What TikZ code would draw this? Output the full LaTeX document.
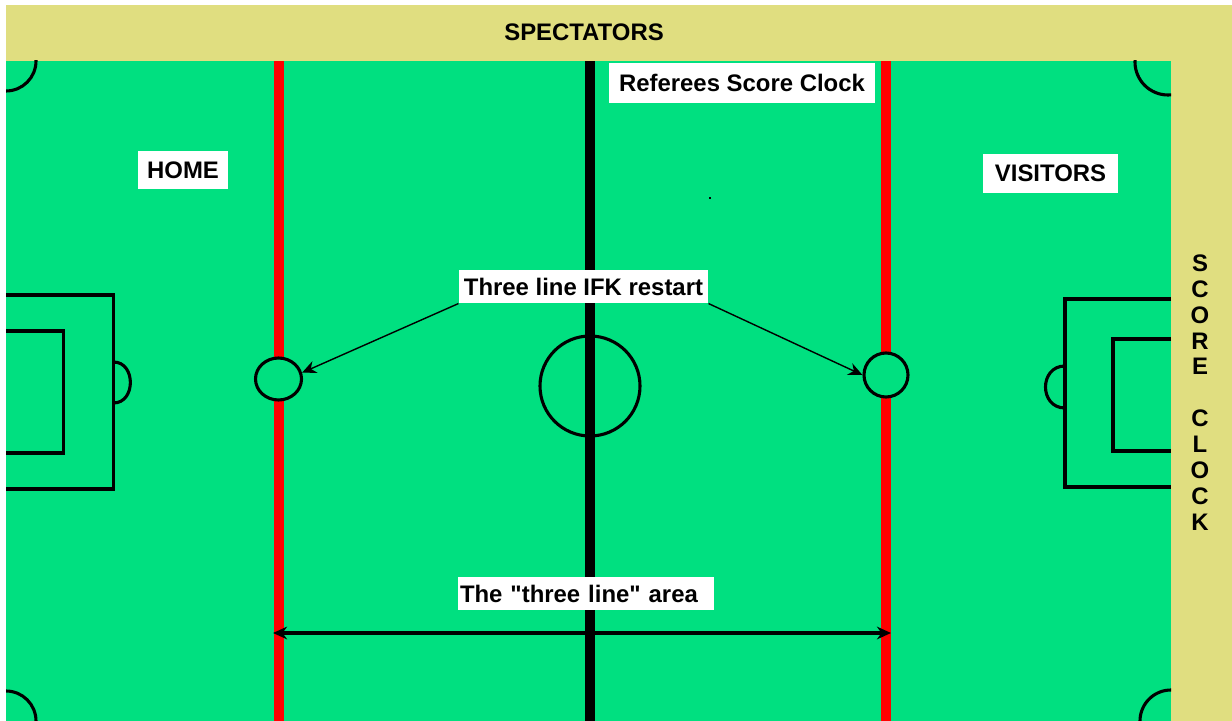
\documentclass[tikz,border=0pt]{standalone}
\usepackage{fontspec}
\setmainfont{Liberation Sans}[Ligatures=TeXOff]
\usepackage{xcolor}
\definecolor{pitchgreen}{HTML}{00E080}
\definecolor{standyellow}{HTML}{E0DE80}
\usepackage{tikz}
\usetikzlibrary{arrows.meta, shapes.geometric}
\tikzset{
	sign/.style={fill=white, inner xsep=0pt, inner ysep=0pt, font=\fontsize{17}{19}\selectfont\bfseries},
	spot/.style={draw, ellipse, line width=2.2pt, fill=pitchgreen, inner sep=0pt},
	mark line/.style={line width=2.2pt},
	pointer/.style={line width=1pt, -{Stealth[length=10pt, width=9pt]}}
}

\begin{document}
\begin{tikzpicture}[x=0.025cm, y=-0.025cm, thick]
	\useasboundingbox (0, 0) rectangle (1232, 721);
	\fill[standyellow] (6, 5) rectangle (1232, 721);
	\fill[pitchgreen] (6, 61) rectangle (1171, 721);

	% halfway line and the two red lines
	\fill[black] (585, 61) rectangle (595, 721);
	\foreach \x in {279, 886} {\fill[red] (\x-5, 61) rectangle (\x+5, 721);}

	% corners
	\begin{scope}
		\clip (6, 61) rectangle (1171, 721);
		\draw[mark line] (6, 61) circle[radius=30];
		\draw[mark line] (1168, 62) circle[radius=33];
		\draw[mark line] (6, 721) circle[radius=30];
		\draw[mark line] (1171, 721) circle[radius=31];
	\end{scope}

	% penalty areas
	\draw[mark line] (6, 295) -- (113.5, 295) -- (113.5, 489) -- (6, 489);
	\draw[mark line] (6, 331) -- (63.5, 331) -- (63.5, 453) -- (6, 453);
	\draw[mark line] (113.5, 362) .. controls (136, 362) and (136, 403) .. (113.5, 403);
	\draw[mark line] (1171, 299) -- (1065, 299) -- (1065, 487) -- (1171, 487);
	\draw[mark line] (1171, 339) -- (1113, 339) -- (1113, 451) -- (1171, 451);
	\draw[mark line] (1065, 366) .. controls (1039, 366) and (1039, 408) .. (1065, 408);

	% spots
	\draw[mark line] (590, 386) circle[x radius=50, y radius=50];
	\node[spot, minimum width=46*0.025cm, minimum height=42*0.025cm] (leftspot) at (278.5, 379) {};
	\node[spot, minimum width=44*0.025cm, minimum height=44*0.025cm] (rightspot) at (886, 375) {};
	\fill[black] (709, 197) rectangle (711, 199);

	% labels
	\node[font=\fontsize{17}{19}\selectfont\bfseries] (spectators) at (584, 32) {SPECTATORS};
	\node[font=\fontsize{17}{18.4}\selectfont\bfseries, align=center, inner sep=0pt] (scoreclock) at (1200, 392.5) {S\\C\\O\\R\\E\\[18.4pt]C\\L\\O\\C\\K};
	\node[sign, minimum width=90*0.025cm, minimum height=38*0.025cm] (home) at (183, 170) {HOME};
	\node[sign, minimum width=135*0.025cm, minimum height=39*0.025cm] (visitors) at (1050.5, 173.5) {VISITORS};
	\node[sign, minimum width=266*0.025cm, minimum height=40*0.025cm] (clock) at (742, 83) {Referees Score Clock};
	\node[sign, minimum width=249*0.025cm, minimum height=33*0.025cm] (restart) at (583.5, 286.5) {Three line IFK restart};
	\node[sign, text width=252*0.025cm, inner xsep=2*0.025cm, minimum height=33*0.025cm, align=left] (area) at (586, 593.5) {The "three line" area};

	\draw[pointer] (restart.south west) -- (leftspot.15);
	\draw[pointer] (restart.south east) -- (rightspot.west);

	\coordinate (arealeft) at (273, 633);
	\coordinate (arearight) at (891, 633);
	\draw[line width=2.2pt, {Stealth[length=10pt, width=9pt]}-{Stealth[length=10pt, width=9pt]}] (arealeft) -- (arearight);
\end{tikzpicture}
\end{document}
